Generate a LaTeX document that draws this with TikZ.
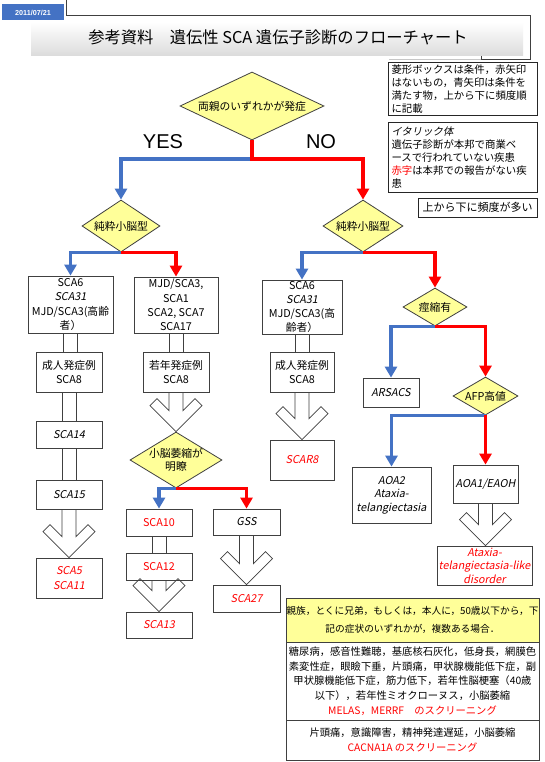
\documentclass[tikz,border=0pt]{standalone}
\usepackage{fontspec}
\setmainfont{Noto Sans CJK JP}
\newfontfamily\itf{Noto Sans CJK JP}[FakeSlant=0.2]
\newfontfamily\arialf{Liberation Sans}
\usetikzlibrary{arrows.meta,calc,shapes.geometric}
\definecolor{cblue}{RGB}{68,114,196}
\definecolor{cred}{RGB}{255,0,0}
\definecolor{cyel}{RGB}{255,255,153}
\definecolor{cedge}{RGB}{64,64,64}
\newcommand\myshaft[2]{\draw[shaftst] let \p1=(#1.south), \p2=(#2.north) in (\x1-7pt,\y1) -- (\x1-7pt,\y2) (\x1+7pt,\y1) -- (\x1+7pt,\y2);}
\newcommand\mychev[2]{\draw[shaftst] let \p1=(#1.south), \p2=(#2.north) in (\x1-7pt,\y1) -- (\x1-7pt,\y2+21pt) -- (\x1-19pt,\y2+33pt) -- (\x1-26pt,\y2+26pt) -- (\x1,\y2) -- (\x1+26pt,\y2+26pt) -- (\x1+19pt,\y2+33pt) -- (\x1+7pt,\y2+21pt) -- (\x1+7pt,\y1);}
\begin{document}
\begin{tikzpicture}[x=1pt,y=-1pt,
  box/.style={draw=cedge, line width=0.8pt, fill=white, inner sep=0pt, align=center, font=\fontsize{10.8}{14.3}\selectfont},
  dia/.style={diamond, draw=cedge, line width=0.8pt, fill=cyel, inner sep=0pt},
  dtext/.style={inner sep=0pt, align=center, font=\fontsize{10.8}{13.5}\selectfont},
  legend/.style={draw=black!85, line width=1pt, fill=white, inner sep=0pt, inner xsep=3pt, align=left, font=\fontsize{10.4}{12.8}\selectfont},
  info/.style={draw=cedge, line width=1pt, inner sep=0pt, align=center, minimum width=253pt, font=\fontsize{10.3}{14.6}\selectfont},
  bl/.style={draw=cblue, line width=3.5pt, line join=miter, -{Triangle[width=12pt,length=11pt]}},
  rd/.style={draw=cred, line width=3.5pt, line join=miter, -{Triangle[width=12pt,length=11pt]}},
  shaftst/.style={draw=cedge, line width=0.8pt, line join=miter},
  yn/.style={inner sep=0pt, font=\fontsize{20}{22}\arialf}
]
\useasboundingbox (0,0) rectangle (545,762);
\fill[white] (0,0) rectangle (545,762);
% title frame and banner
\draw[cedge, line width=0.8pt] (66,0) -- (66,15.5) -- (530,15.5) -- (530,59) -- (481,59) -- (481,56);
\draw[gray!45, line width=0.6pt] (389,59) -- (481,59);
\shade[top color=white, bottom color=black!14] (31,22) rectangle (523,56);
\node[inner sep=0pt, font=\fontsize{16.3}{18}\selectfont] (title) at (278,37) {参考資料　遺伝性 SCA 遺伝子診断のフローチャート};
\node[fill=cblue, text=white, inner sep=0pt, minimum width=62pt, minimum height=16pt, font=\fontsize{7.2}{8}\arialf\bfseries] (date) at (33,12.5) {2011/07/21};
% legends
\node[legend, text width=143pt, minimum height=53pt, anchor=north west] (lgA) at (388,62) {菱形ボックスは条件，赤矢印\\はないもの，青矢印は条件を\\満たす物，上から下に頻度順\\に記載};
\node[legend, text width=143pt, minimum height=70pt, anchor=north west] (lgB) at (388,122) {{\itf イタリック体}\\遺伝子診断が本邦で商業ベ\\ースで行われていない疾患\\\textcolor{cred}{赤字}は本邦での報告がない疾\\患};
\node[legend, align=center, minimum width=119pt, minimum height=19pt, font=\fontsize{11}{13}\selectfont] (lgC) at (477.5,207.5) {上から下に頻度が多い};
% diamonds
\node[dia, minimum width=144pt, minimum height=68pt] (d0) at (252,106) {};
\node[dtext] (d0t) at (d0) {両親のいずれかが発症};
\node[dia, minimum width=78pt, minimum height=52pt] (dL) at (121,226) {};
\node[dtext] (dLt) at (dL) {純粋小脳型};
\node[dia, minimum width=80pt, minimum height=52pt] (dR) at (363,226) {};
\node[dtext] (dRt) at (dR) {純粋小脳型};
\node[dia, minimum width=64pt, minimum height=38pt] (dS) at (435,307) {};
\node[dtext] (dSt) at (dS) {痙縮有};
\node[dia, minimum width=65pt, minimum height=38pt] (dA) at (485.5,396) {};
\node[dtext] (dAt) at (dA) {AFP高値};
\node[dia, minimum width=92pt, minimum height=56pt] (dM) at (176,460) {};
\node[dtext] (dMt) at (dM) {小脳萎縮が\\明瞭};
% YES / NO
\node[yn] (yes) at (163,142) {YES};
\node[yn] (no) at (321,142) {NO};
% boxes left
\node[box, minimum width=85pt, minimum height=57pt] (L1) at (70.5,304.5) {SCA6\\{\itf SCA31}\\MJD/SCA3(高齢\\者）};
\node[box, minimum width=66pt, minimum height=40pt] (La) at (69,372) {成人発症例\\SCA8};
\node[box, minimum width=66pt, minimum height=27pt] (Lb) at (69,434.5) {\itf SCA14};
\node[box, minimum width=66pt, minimum height=29pt] (Lc) at (69,494.5) {\itf SCA15};
\node[box, minimum width=66pt, minimum height=40pt, text=cred] (Ld) at (69,578) {\itf SCA5\\\itf SCA11};
% boxes middle
\node[box, minimum width=84pt, minimum height=56pt] (L2) at (176,305) {MJD/SCA3,\\SCA1\\SCA2, SCA7\\SCA17};
\node[box, minimum width=66pt, minimum height=40pt] (Ma) at (176,372) {若年発症例\\SCA8};
\node[box, minimum width=66pt, minimum height=27pt, text=cred] (M10) at (159,522.5) {SCA10};
\node[box, minimum width=66pt, minimum height=27pt, text=cred] (M12) at (159,566.5) {SCA12};
\node[box, minimum width=66pt, minimum height=26pt, text=cred] (M13) at (159,625) {\itf SCA13};
\node[box, minimum width=67pt, minimum height=26pt] (G) at (246.5,522) {\itf GSS};
\node[box, minimum width=67pt, minimum height=27pt, text=cred] (G27) at (246.5,598.5) {\itf SCA27};
% boxes right
\node[box, minimum width=80pt, minimum height=54pt] (R1) at (302,307) {SCA6\\{\itf SCA31}\\MJD/SCA3(高\\齢者）};
\node[box, minimum width=64pt, minimum height=40pt] (Ra) at (302,372) {成人発症例\\SCA8};
\node[box, minimum width=64pt, minimum height=40pt, text=cred] (R8) at (302,460) {\itf SCAR8};
\node[box, minimum width=56pt, minimum height=29pt] (ARS) at (391,392.5) {\itf ARSACS};
\node[box, minimum width=79pt, minimum height=56pt, font=\fontsize{10.8}{13.5}\itf] (AOA2) at (391.5,495) {AOA2\\Ataxia-\\telangiectasia};
\node[box, minimum width=65pt, minimum height=38pt] (AOA1) at (485.5,484) {\itf AOA1/EAOH};
\node[box, minimum width=95pt, minimum height=39pt, text=cred, font=\fontsize{10.8}{13.5}\itf] (ATLD) at (484.5,565.5) {Ataxia-\\telangiectasia-like\\disorder};
% info boxes
\node[info, fill=cyel, minimum height=44pt, font=\fontsize{9.7}{17.5}\selectfont] (Y) at (412.5,620) {親族，とくに兄弟，もしくは，本人に，50歳以下から，下\\記の症状のいずれかが，複数ある場合．};
\node[info, fill=white, minimum height=78pt] (B2) at (412.5,681) {糖尿病，感音性難聴，基底核石灰化，低身長，網膜色\\素変性症，眼瞼下垂，片頭痛，甲状腺機能低下症，副\\甲状腺機能低下症，筋力低下，若年性脳梗塞（40歳\\以下），若年性ミオクローヌス，小脳萎縮\\\textcolor{cred}{MELAS，MERRF　のスクリーニング}};
\node[info, fill=white, minimum height=40pt] (B3) at (412.5,740) {片頭痛，意識障害，精神発達遅延，小脳萎縮\\\textcolor{cred}{CACNA1A のスクリーニング}};
% connectors
\coordinate (j0) at (252,159);
\draw[bl] (j0) -| (dL.north);
\draw[rd] (d0.south) -- (j0) -| (dR.north);
\draw[bl] (dL.south) -| (L1.north);
\draw[rd] (dL.south) -| (L2.north);
\draw[bl] (dR.south) -| (R1.north);
\draw[rd] (dR.south) -| (dS.north);
\draw[bl] (dS.south) -| (ARS.north);
\draw[rd] (dS.south) -| (dA.north);
\draw[bl] (dA.south) -| (AOA2.north);
\draw[rd] (dA.south) -- (AOA1.north);
\draw[bl] (dM.south) -| (M10.north);
\draw[rd] (dM.south) -| (G.north);
% hollow connectors
\myshaft{L1}{La}
\myshaft{La}{Lb}
\myshaft{Lb}{Lc}
\myshaft{L2}{Ma}
\myshaft{M10}{M12}
\myshaft{R1}{Ra}
\mychev{Lc}{Ld}
\mychev{Ma}{dM}
\mychev{M12}{M13}
\mychev{G}{G27}
\mychev{Ra}{R8}
\mychev{AOA1}{ATLD}
\end{tikzpicture}
\end{document}
